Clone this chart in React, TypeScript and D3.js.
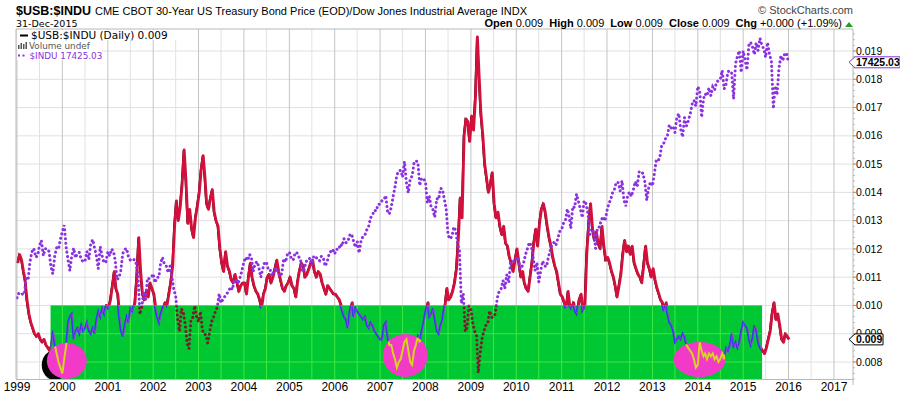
import React from 'react';
import * as d3 from 'd3';

// $USB:$INDU ratio, read twice a month (1st and 16th), one row per year 1999..2015
const ratioByYear: number[][] = [
  [0.0115,0.0118,0.0116,0.0112,0.0109,0.0102,0.0097,0.0094,0.0092,0.0090,0.0089,0.0090,0.0088,0.0087,0.0088,0.0086,0.0085,0.0084,0.0086,0.0091,0.0086,0.0083,0.0080,0.0078],
  [0.0076,0.0081,0.0086,0.0094,0.0096,0.0097,0.0088,0.0091,0.0092,0.0090,0.0093,0.0091,0.0092,0.0094,0.0091,0.0090,0.0092,0.0090,0.0095,0.0098,0.0096,0.0099,0.0097,0.0100],
  [0.0099,0.0102,0.0107,0.0112,0.0106,0.0104,0.0096,0.0091,0.0089,0.0093,0.0096,0.0094,0.0099,0.0098,0.0101,0.0110,0.0124,0.0112,0.0104,0.0102,0.0105,0.0103,0.0108,0.0106],
  [0.0104,0.0099,0.0096,0.0094,0.0097,0.0099,0.0101,0.0100,0.0104,0.0108,0.0114,0.0128,0.0137,0.0130,0.0135,0.0143,0.0155,0.0144,0.0129,0.0134,0.0127,0.0124,0.0131,0.0135],
  [0.0140,0.0148,0.0153,0.0145,0.0136,0.0134,0.0138,0.0141,0.0133,0.0130,0.0128,0.0120,0.0115,0.0112,0.0119,0.0114,0.0112,0.0109,0.0108,0.0111,0.0108,0.0105,0.0107,0.0108],
  [0.0108,0.0104,0.0110,0.0115,0.0110,0.0107,0.0105,0.0104,0.0102,0.0099,0.0104,0.0106,0.0110,0.0111,0.0108,0.0110,0.0113,0.0116,0.0112,0.0109,0.0106,0.0105,0.0107,0.0108],
  [0.0110,0.0107,0.0106,0.0103,0.0108,0.0112,0.0115,0.0114,0.0110,0.0111,0.0113,0.0115,0.0116,0.0112,0.0110,0.0112,0.0111,0.0108,0.0106,0.0104,0.0107,0.0106,0.0105,0.0104],
  [0.0104,0.0103,0.0102,0.0100,0.0098,0.0096,0.0095,0.0092,0.0098,0.0101,0.0096,0.0099,0.0098,0.0097,0.0096,0.0095,0.0096,0.0093,0.0092,0.0094,0.0093,0.0091,0.0090,0.0089],
  [0.0088,0.0088,0.0093,0.0094,0.0089,0.0086,0.0086,0.0083,0.0081,0.0078,0.0080,0.0081,0.0084,0.0087,0.0088,0.0084,0.0080,0.0079,0.0084,0.0086,0.0089,0.0087,0.0091,0.0094],
  [0.0098,0.0101,0.0096,0.0097,0.0099,0.0095,0.0091,0.0090,0.0093,0.0095,0.0100,0.0106,0.0102,0.0103,0.0105,0.0108,0.0113,0.0124,0.0138,0.0131,0.0160,0.0166,0.0165,0.0158],
  [0.0167,0.0162,0.0174,0.0195,0.0182,0.0168,0.0160,0.0150,0.0145,0.0140,0.0143,0.0147,0.0136,0.0131,0.0133,0.0128,0.0125,0.0128,0.0122,0.0121,0.0117,0.0115,0.0112,0.0116],
  [0.0120,0.0115,0.0110,0.0112,0.0108,0.0106,0.0105,0.0110,0.0115,0.0122,0.0127,0.0121,0.0129,0.0134,0.0136,0.0133,0.0128,0.0124,0.0121,0.0117,0.0114,0.0112,0.0108,0.0104],
  [0.0103,0.0101,0.0099,0.0105,0.0100,0.0099,0.0101,0.0098,0.0097,0.0102,0.0104,0.0098,0.0099,0.0118,0.0129,0.0136,0.0127,0.0123,0.0126,0.0122,0.0120,0.0128,0.0121,0.0116],
  [0.0117,0.0115,0.0112,0.0110,0.0107,0.0103,0.0107,0.0111,0.0118,0.0123,0.0119,0.0121,0.0118,0.0121,0.0115,0.0113,0.0111,0.0110,0.0108,0.0114,0.0121,0.0115,0.0113,0.0110],
  [0.0113,0.0109,0.0106,0.0104,0.0102,0.0101,0.0098,0.0101,0.0097,0.0094,0.0093,0.0091,0.0087,0.0088,0.0089,0.0088,0.0090,0.0089,0.0086,0.0085,0.0084,0.0083,0.0081,0.0078],
  [0.0079,0.0087,0.0084,0.0082,0.0083,0.0081,0.0083,0.0082,0.0083,0.0081,0.0082,0.0080,0.0081,0.0083,0.0081,0.0085,0.0084,0.0086,0.0090,0.0085,0.0087,0.0085,0.0087,0.0091],
  [0.0094,0.0093,0.0092,0.0088,0.0086,0.0088,0.0093,0.0091,0.0087,0.0085,0.0084,0.0083,0.0085,0.0088,0.0091,0.0097,0.0101,0.0095,0.0097,0.0093,0.0088,0.0087,0.0090,0.0089],
];

// $INDU (Dow Jones Industrial Average), same dates
const induByYear: number[][] = [
  [9180,9340,9360,9300,9300,9880,9830,10460,10790,10910,10600,10650,11010,11190,10650,10900,10900,10800,10270,10020,10650,10930,10880,11220],
  [11500,11720,10940,10500,10130,10630,10920,10580,10730,10770,10520,10450,10450,10800,10520,11050,11220,10930,10650,10200,10970,10650,10410,10430],
  [10790,10650,10890,10800,10500,9820,9880,10150,10730,10870,10910,10620,10500,10470,10520,10390,9950,8600,8850,9400,9080,9870,9850,9890],
  [10020,9710,9900,9900,10370,10600,10360,10300,10060,10290,9920,9470,9240,8470,8000,8800,8660,8230,7600,7400,8400,8500,8900,8540],
  [8340,8700,8050,7900,7890,7600,8000,8350,8480,8700,8850,9320,9000,9130,9230,9320,9420,9560,9470,9800,9800,9690,9880,10130],
  [10450,10600,10490,10700,10590,10100,10380,10450,10230,9900,10200,10420,10430,10140,10140,9950,10170,10230,10080,9930,10030,10550,10430,10700],
  [10780,10560,10500,10750,10770,10630,10500,10090,10190,10460,10470,10580,10300,10630,10640,10510,10480,10640,10570,10290,10440,10700,10810,10880],
  [10720,10880,10860,11060,10990,11250,11110,11140,11370,11420,11170,10950,11150,10750,11180,11330,11380,11560,11680,11980,12080,12250,12220,12450],
  [12460,12580,12620,12760,12230,12110,12350,12720,13060,13480,13630,13640,13400,13950,13210,12850,13360,13440,13900,13980,13930,13110,13370,13340],
  [13260,12500,12740,12350,12270,12000,12650,12620,13010,12990,12640,12270,11380,11240,11330,11660,11540,11060,10830,8980,9320,8000,8150,8900],
  [8780,8280,8000,7850,6550,7220,7760,8030,8210,8270,8720,8500,8500,8620,9170,9400,9500,9790,9500,9990,9710,10400,10470,10450],
  [10550,10610,10190,10270,10400,10690,10900,11120,11010,10620,10140,10410,9740,10100,10470,10300,10270,10590,10830,11060,11120,11020,11250,11500],
  [11580,11790,11890,12290,12060,11610,12380,12340,12810,12550,12290,11990,12580,12480,12130,11400,11490,11510,10910,11640,11660,11900,12020,11870],
  [12220,12480,12630,12880,12980,13230,13210,12920,13280,12600,12390,12770,12880,12730,12980,13250,13090,13590,13520,13550,13230,12590,13020,13240],
  [13100,13510,14010,13980,14090,14510,14580,14750,14840,15230,15120,15180,14970,15480,15630,15080,14810,15490,15190,15370,15620,15960,16090,15890],
  [16580,16420,15500,16150,16320,16250,16530,16260,16560,16450,16740,16780,16830,17140,16490,16660,17100,17130,17040,16140,17390,17630,17830,17070],
  [17820,17510,17160,18020,18130,17980,17700,18110,17840,18270,18010,17900,17600,18120,17690,17480,15800,16600,16280,17210,17660,17480,17720,17750],
];

const lastDay = '2015-12-31';
const lastRatio = 0.0088;
const lastIndu = 17425.03;

const years = d3.range(1999, 2018);
const ratioTicks = [0.008, 0.009, 0.010, 0.011, 0.012, 0.013, 0.014, 0.015, 0.016, 0.017, 0.018, 0.019];

// hand-painted marks on the chart
const greenZone = { start: '1999-09-28', end: '2015-06-02', top: 0.010 };
const blackSpot = { center: '1999-11-01', value: 0.00789, halfDays: 105, halfValue: 0.00053 };
const pinkSpots = [
  { center: '2000-02-06', value: 0.00804, halfDays: 161, halfValue: 0.00064 },
  { center: '2007-07-23', value: 0.00823, halfDays: 181, halfValue: 0.00076 },
  { center: '2014-01-16', value: 0.00809, halfDays: 209, halfValue: 0.00062 },
];

type P = { date: Date; v: number };
const parse = d3.timeParse('%Y-%m-%d');

const dates = d3.range(ratioByYear.length * 24).map(
  i => new Date(1999 + Math.floor(i / 24), Math.floor((i % 24) / 2), i % 2 ? 16 : 1)
);
const ratioPts: P[] = ratioByYear.flat().map((v, i) => ({ date: dates[i], v }));
ratioPts.push({ date: parse(lastDay)!, v: lastRatio });
const induPts: P[] = induByYear.flat().map((v, i) => ({ date: dates[i], v }));
induPts.push({ date: parse(lastDay)!, v: lastIndu });

const L = 16, R = 853, T = 29, B = 379;

const x = d3.scaleTime().domain([new Date(1999, 0, 1), new Date(2017, 0, 1)]).range([17, 834]);
const y = d3.scaleLinear().domain([0.008, 0.019]).range([362, 51]);
const yIndu = d3.scaleLinear().domain([6547, 17425]).range([y(0.00761), y(0.0186)]);

const ratioLine = d3.line<P>().x(d => x(d.date)).y(d => y(d.v));
const induLine = d3.line<P>().x(d => x(d.date)).y(d => yIndu(d.v));

const gridDates = d3.timeMonth.every(6)!.range(new Date(1999, 0, 1), new Date(2017, 7, 1));

function ellipse(s: { center: string; value: number; halfDays: number; halfValue: number }) {
  const c = parse(s.center)!;
  const cx = x(c);
  const rx = x(d3.timeDay.offset(c, s.halfDays)) - cx;
  const cy = y(s.value);
  const ry = cy - y(s.value + s.halfValue);
  return { cx, cy, rx, ry };
}

const sans = '"Liberation Sans", Arial, sans-serif';
const deja = '"DejaVu Sans", Verdana, sans-serif';

export default function App() {
  const gx0 = x(parse(greenZone.start)!);
  const gx1 = x(parse(greenZone.end)!);
  const gy0 = y(greenZone.top);
  const blk = ellipse(blackSpot);
  const pinks = pinkSpots.map(ellipse);
  const ratioPath = ratioLine(ratioPts)!;
  const induPath = induLine(induPts)!;
  const yLastI = yIndu(lastIndu);
  const yLastR = y(lastRatio);

  const grid = (stroke: (d: Date) => string, hStroke: string) => (
    <g>
      {ratioTicks.map(t => (
        <line key={'h' + t} x1={L} x2={R} y1={y(t)} y2={y(t)} stroke={hStroke} strokeWidth={1} />
      ))}
      {gridDates.map(d => (
        <line key={'v' + +d} x1={x(d)} x2={x(d)} y1={T} y2={B} stroke={stroke(d)} strokeWidth={1} />
      ))}
    </g>
  );

  return (
    <svg width={900} height={396} style={{ position: 'absolute', left: 0, top: 0 }}>
      <defs>
        <clipPath id="plotClip"><rect x={L} y={T} width={R - L} height={B - T} /></clipPath>
        <clipPath id="greenClip"><rect x={gx0} y={gy0} width={gx1 - gx0} height={B - gy0} /></clipPath>
        <clipPath id="pinkClip">
          {pinks.map((e, i) => <ellipse key={i} cx={e.cx} cy={e.cy} rx={e.rx} ry={e.ry} />)}
        </clipPath>
      </defs>
      <rect width={900} height={396} fill="#fff" />

      <g clipPath="url(#plotClip)">
        {grid(d => (d.getMonth() === 0 ? '#c4c4c4' : '#e2e2e2'), '#e0e0e0')}

        <path d={ratioPath} fill="none" stroke="#000" strokeWidth={1.3} />
        <path d={ratioPath} fill="none" stroke="#d3103c" strokeWidth={2.8} transform="translate(0.8,0)" strokeLinejoin="round" />
        <path d={induPath} fill="none" stroke="#8a32e0" strokeWidth={3} strokeDasharray="0.1 4.4" strokeLinecap="round" />

        <rect x={gx0} y={gy0} width={gx1 - gx0} height={B - gy0} fill="#00c832" />
        <g clipPath="url(#greenClip)">
          {grid(() => '#3ee83e', '#3ee83e')}
          <path d={ratioPath} fill="none" stroke="#3535f2" strokeWidth={2} />
          <path d={ratioPath} fill="none" stroke="#c048c8" strokeWidth={0.8} transform="translate(0.8,0)" opacity={0.8} />
          <path d={induPath} fill="none" stroke="#7a1c2c" strokeWidth={3} strokeDasharray="0.1 4.4" strokeLinecap="round" />
        </g>

        <ellipse cx={blk.cx} cy={blk.cy} rx={blk.rx} ry={blk.ry} fill="#000" />
        {pinks.map((e, i) => (
          <ellipse key={i} cx={e.cx} cy={e.cy} rx={e.rx} ry={e.ry} fill="#f23ac8" />
        ))}
        <g clipPath="url(#pinkClip)">
          <path d={ratioPath} fill="none" stroke="#d6d41c" strokeWidth={2} />
        </g>
      </g>

      {/* legend */}
      <rect x={L + 1} y={T + 1} width={160} height={10} fill="#fff" />
      <rect x={L + 1} y={T + 11} width={85} height={20} fill="#fff" />
      <line x1={20} x2={28} y1={35.5} y2={35.5} stroke="#000" strokeWidth={2} />
      <text x={31} y={39} fontFamily={deja} fontSize={10.5} fill="#000">$USB:$INDU (Daily) 0.009</text>
      <g fill="#555">
        <rect x={18} y={45} width={1.5} height={4} />
        <rect x={20.5} y={43} width={1.5} height={6} />
        <rect x={23} y={44} width={1.5} height={5} />
        <rect x={25.5} y={42} width={1.5} height={7} />
      </g>
      <text x={29} y={49} fontFamily={deja} fontSize={8.8} fill="#555">Volume undef</text>
      <line x1={18} x2={27} y1={55.5} y2={55.5} stroke="#8a32e0" strokeWidth={2} strokeDasharray="2 2.5" />
      <text x={29.5} y={59} fontFamily={deja} fontSize={8.8} fill="#8a32e0">$INDU 17425.03</text>

      {/* frame and axes */}
      <line x1={L} x2={R} y1={T} y2={T} stroke="#b8b8b8" />
      <line x1={L} x2={L} y1={T} y2={B} stroke="#b8b8b8" />
      <line x1={L} x2={R} y1={B + 0.5} y2={B + 0.5} stroke="#b8b8b8" />
      <line x1={R} x2={R} y1={T} y2={B + 6} stroke="#b8b8b8" />
      {d3.range(0.0074, 0.0197, 0.0002).map(t => (
        <line key={t} x1={R} x2={R + 2} y1={y(t)} y2={y(t)} stroke="#bbb" />
      ))}
      {ratioTicks.map(t => (
        <g key={t}>
          <line x1={R} x2={R + 3} y1={y(t)} y2={y(t)} stroke="#999" />
          <text x={856} y={y(t)} dy="0.35em" fontFamily={sans} fontSize={10.5} fill="#000">
            {d3.format('.3f')(t)}
          </text>
        </g>
      ))}
      {years.map(yr => (
        <text key={yr} x={x(new Date(yr, 0, 1))} y={391} textAnchor="middle" fontFamily={sans} fontSize={12} fill="#000">
          {yr}
        </text>
      ))}

      {/* price labels on right axis */}
      <path
        d={`M849,${yLastI} L855,${yLastI - 5.5} H900 V${yLastI + 5.5} H855 Z`}
        fill="#fff" stroke="#8a32e0" strokeWidth={1}
      />
      <text x={856} y={yLastI} dy="0.36em" fontFamily={sans} fontWeight="bold" fontSize={10.5} fill="#000">
        17425.03
      </text>
      <path
        d={`M849,${yLastR} L855,${yLastR - 5.5} H883 V${yLastR + 5.5} H855 Z`}
        fill="#fff" stroke="#000" strokeWidth={1}
      />
      <text x={856} y={yLastR} dy="0.36em" fontFamily={sans} fontWeight="bold" fontSize={10.5} fill="#000">
        {d3.format('.3f')(lastRatio)}
      </text>

      {/* header */}
      <text x={16} y={15} fontFamily={sans} fill="#000">
        <tspan fontWeight="bold" fontSize={12.5}>$USB:$INDU</tspan>
        <tspan fontSize={11} dx={4}>CME CBOT 30-Year US Treasury Bond Price (EOD)/Dow Jones Industrial Average INDX</tspan>
      </text>
      <text x={16} y={27} fontFamily={deja} fontSize={9.5} fill="#000">31-Dec-2015</text>
      <text x={853} y={14} textAnchor="end" fontFamily={sans} fontSize={11} fill="#444">© StockCharts.com</text>
      <text x={842} y={27} textAnchor="end" fontFamily={sans} fontSize={11} fill="#000">
        <tspan fontWeight="bold">Open</tspan> 0.009 <tspan fontWeight="bold" dx={3}>High</tspan> 0.009{' '}
        <tspan fontWeight="bold" dx={3}>Low</tspan> 0.009 <tspan fontWeight="bold" dx={3}>Close</tspan> 0.009{' '}
        <tspan fontWeight="bold" dx={3}>Chg</tspan> +0.000 (+1.09%)
      </text>
      <path d="M845,27 L849,22 L853,27 Z" fill="#2a9a2a" />
    </svg>
  );
}
